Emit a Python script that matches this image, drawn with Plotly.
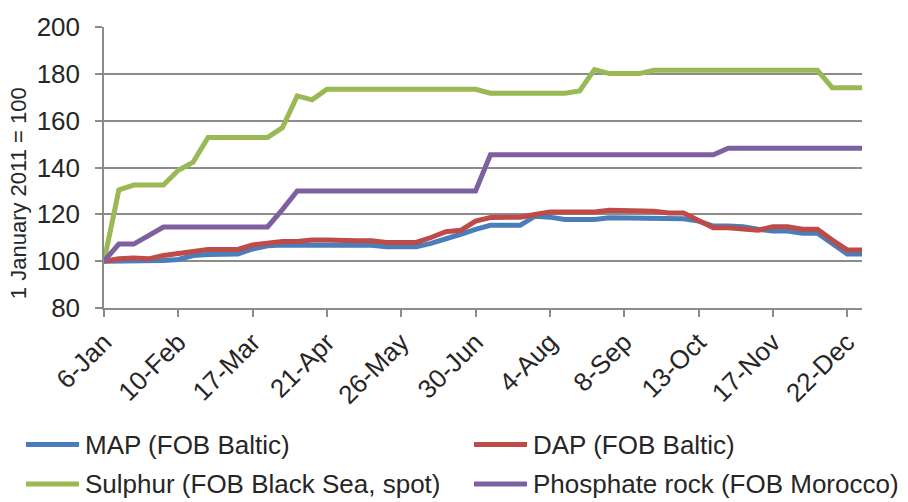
import plotly.graph_objects as go

# Weekly observation dates, 2011
weeks = [
    "6-Jan", "13-Jan", "20-Jan", "27-Jan", "3-Feb", "10-Feb", "17-Feb", "24-Feb",
    "3-Mar", "10-Mar", "17-Mar", "24-Mar", "31-Mar", "7-Apr", "14-Apr", "21-Apr",
    "28-Apr", "5-May", "12-May", "19-May", "26-May", "2-Jun", "9-Jun", "16-Jun",
    "23-Jun", "30-Jun", "7-Jul", "14-Jul", "21-Jul", "28-Jul", "4-Aug", "11-Aug",
    "18-Aug", "25-Aug", "1-Sep", "8-Sep", "15-Sep", "22-Sep", "29-Sep", "6-Oct",
    "13-Oct", "20-Oct", "27-Oct", "3-Nov", "10-Nov", "17-Nov", "24-Nov", "1-Dec",
    "8-Dec", "15-Dec", "22-Dec", "29-Dec",
]

# Price indices, 1 January 2011 = 100
map_baltic = [
    100.0, 100.0, 100.0, 100.0, 100.3, 100.7, 102.4, 102.8, 103.1, 103.1,
    105.2, 106.6, 106.9, 106.9, 107.0, 107.0, 106.8, 106.8, 106.8, 106.2,
    106.2, 106.2, 107.6, 109.4, 111.5, 113.6, 115.3, 115.3, 115.3, 119.2,
    118.8, 117.8, 117.8, 117.8, 118.5, 118.5, 118.5, 118.1, 118.1, 118.1,
    117.1, 115.0, 115.0, 114.7, 113.6, 112.9, 112.9, 111.9, 111.9, 107.3,
    103.1, 103.1,
]
dap_baltic = [
    100.0, 101.0, 101.4, 101.0, 102.4, 103.1, 104.2, 105.0, 105.0, 105.0,
    106.9, 107.6, 108.4, 108.4, 109.0, 109.0, 108.7, 108.7, 108.7, 108.0,
    108.0, 108.0, 110.1, 112.6, 113.2, 117.1, 118.6, 118.8, 118.8, 119.9,
    121.0, 121.0, 121.0, 121.0, 121.7, 121.7, 121.7, 121.3, 120.6, 120.6,
    117.4, 114.3, 114.3, 113.9, 113.2, 114.7, 114.7, 113.6, 113.6, 109.0,
    104.8, 104.8,
]
sulphur_black_sea = [
    100.0, 130.4, 132.5, 132.5, 132.5, 138.8, 142.3, 152.8, 152.8, 152.8,
    152.8, 152.8, 157.0, 170.6, 168.9, 173.4, 173.4, 173.4, 173.4, 173.4,
    173.4, 173.4, 173.4, 173.4, 173.4, 173.4, 171.7, 171.7, 171.7, 171.7,
    171.7, 171.7, 172.7, 181.8, 180.1, 180.1, 180.1, 181.5, 181.5, 181.5,
    181.5, 181.5, 181.5, 181.5, 181.5, 181.5, 181.5, 181.5, 181.5, 174.1,
    174.1, 174.1,
]
phosphate_rock = [
    100.0, 107.3, 107.3, 111.0, 114.6, 114.6, 114.6, 114.6, 114.6, 114.6,
    114.6, 114.6, 122.0, 130.0, 130.0, 130.0, 130.0, 130.0, 130.0, 130.0,
    130.0, 130.0, 130.0, 130.0, 130.0, 130.0, 145.4, 145.4, 145.4, 145.4,
    145.4, 145.4, 145.4, 145.4, 145.4, 145.4, 145.4, 145.4, 145.4, 145.4,
    145.4, 145.4, 148.2, 148.2, 148.2, 148.2, 148.2, 148.2, 148.2, 148.2,
    148.2, 148.2,
]

series_names = [
    "MAP (FOB Baltic)",
    "DAP (FOB Baltic)",
    "Sulphur (FOB Black Sea, spot)",
    "Phosphate rock (FOB Morocco)",
]
series_values = [map_baltic, dap_baltic, sulphur_black_sea, phosphate_rock]
series_colors = ["#4A7EBB", "#BE4B48", "#98B954", "#7D60A0"]

tick_weeks = weeks[::5]
y_ticks = [80, 100, 120, 140, 160, 180, 200]

FONT = "Liberation Sans, Arial, sans-serif"
TEXT = "#262626"
GRID = "#8C8C8C"

W, H = 908, 502
ML, MR, MT, MB = 104, 46, 23, 194
PW, PH = W - ML - MR, H - MT - MB


def px_x(px):
    """Horizontal pixel position -> paper coordinate."""
    return (px - ML) / PW


def px_y(py):
    """Vertical pixel position (from top) -> paper coordinate."""
    return (H - MB - py) / PH


fig = go.Figure()
for name, values, color in zip(series_names, series_values, series_colors):
    fig.add_trace(go.Scatter(
        x=weeks, y=values, name=name, mode="lines",
        line=dict(color=color, width=5),
        showlegend=False,
    ))

# Two-column legend below the chart: a line sample and the series name
shapes, annotations = [], []
legend_cols = [26, 474]
legend_rows = [446.5, 486.5]
for i, (name, color) in enumerate(zip(series_names, series_colors)):
    x0 = legend_cols[i % 2]
    y0 = legend_rows[i // 2]
    shapes.append(dict(
        type="line", xref="paper", yref="paper",
        x0=px_x(x0), x1=px_x(x0 + 53), y0=px_y(y0), y1=px_y(y0),
        line=dict(color=color, width=5),
    ))
    annotations.append(dict(
        text=name, xref="paper", yref="paper",
        x=px_x(x0 + 57), y=px_y(y0),
        xanchor="left", yanchor="middle", showarrow=False,
        font=dict(family=FONT, size=26, color=TEXT),
    ))

annotations.append(dict(
    text="1 January 2011 = 100",
    xref="paper", yref="paper",
    x=px_x(18), y=px_y(191.5),
    xanchor="center", yanchor="middle",
    textangle=-90, showarrow=False,
    font=dict(family=FONT, size=22, color=TEXT),
))

fig.update_layout(
    width=W, height=H,
    margin=dict(l=ML, r=MR, t=MT, b=MB),
    paper_bgcolor="white", plot_bgcolor="white",
    font=dict(family=FONT, size=26, color=TEXT),
    showlegend=False,
    shapes=shapes,
    annotations=annotations,
)

fig.update_xaxes(
    type="category",
    range=[0, len(weeks) - 1],
    tickmode="array", tickvals=tick_weeks, ticktext=tick_weeks,
    tickangle=-45,
    ticks="outside", ticklen=7, tickwidth=1.5, tickcolor=GRID,
    showline=True, linecolor=GRID, linewidth=1.5,
    showgrid=False, zeroline=False,
    tickfont=dict(family=FONT, size=26, color=TEXT),
)
fig.update_yaxes(
    range=[80, 200],
    tickmode="array", tickvals=y_ticks,
    ticks="outside", ticklen=7, tickwidth=1.5, tickcolor=GRID,
    ticklabelstandoff=10,
    showline=True, linecolor=GRID, linewidth=1.5,
    showgrid=True, gridcolor=GRID, gridwidth=1.5,
    zeroline=False,
    tickfont=dict(family=FONT, size=26, color=TEXT),
)

fig.write_html("out.html")
